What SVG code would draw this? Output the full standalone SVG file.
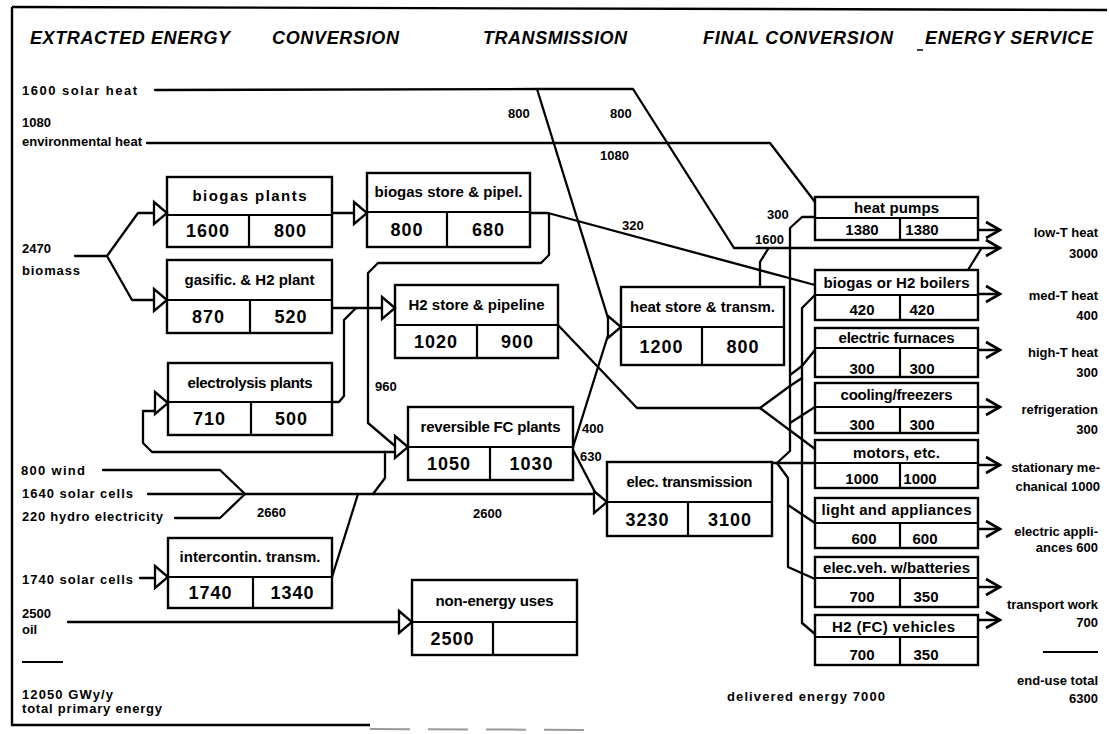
<svg xmlns="http://www.w3.org/2000/svg" width="1109" height="734" viewBox="0 0 1109 734">
<style>
.bx{fill:#fff;stroke:#000;stroke-width:2.4}
.dv{fill:none;stroke:#000;stroke-width:2.2}
.cn polyline,.cn path{fill:none;stroke:#000;stroke-width:2.3;stroke-linejoin:round;stroke-linecap:round}
.tri{fill:#fff;stroke:#000;stroke-width:2.3;stroke-linejoin:miter}
.chev{fill:none;stroke:#000;stroke-width:2.6;stroke-linejoin:miter}
.fr{fill:none;stroke:#000;stroke-width:2.4}
text{font-family:"Liberation Sans",Arial,Helvetica,sans-serif;font-weight:bold;fill:#000}
.hd{font-size:18px;font-style:italic}
.lb{font-size:13px}
.bh{font-size:15px;text-anchor:middle}
.bv{font-size:18px;text-anchor:middle;letter-spacing:1px}
.eh{font-size:15px;text-anchor:middle}
.ev{font-size:15px;text-anchor:middle}
.rl{font-size:13px;text-anchor:end}
</style>
<defs>
<path id="tri" class="tri" d="M-13,-11 L0,0 L-13,11 Z"/>
<path id="chev" class="chev" d="M-14,-8 L0,0 L-14,8"/>
</defs>
<rect width="1109" height="734" fill="#fff"/>

<g id="frame">
<path class="fr" d="M12,7 L1107,10"/>
<path class="fr" d="M12,7 L12,725 L370,725"/>
<path d="M370,729 L600,730" stroke="#999" stroke-width="2" stroke-dasharray="40,18" fill="none"/>
<path d="M917,50 L923,50" stroke="#000" stroke-width="1.5"/>
</g>

<g id="stage-headers">
<text class="hd" x="30" y="44" textLength="200" lengthAdjust="spacing">EXTRACTED ENERGY</text>
<text class="hd" x="272" y="44" textLength="127" lengthAdjust="spacing">CONVERSION</text>
<text class="hd" x="483" y="44" textLength="144" lengthAdjust="spacing">TRANSMISSION</text>
<text class="hd" x="703" y="44" textLength="190" lengthAdjust="spacing">FINAL CONVERSION</text>
<text class="hd" x="925" y="44" textLength="168" lengthAdjust="spacing">ENERGY SERVICE</text>
</g>

<g id="sources">
<text class="lb" x="22" y="95" textLength="115" lengthAdjust="spacing">1600 solar heat</text>
<text class="lb" x="22" y="127">1080</text>
<text class="lb" x="22" y="146" textLength="120" lengthAdjust="spacing">environmental heat</text>
<text class="lb" x="22" y="253">2470</text>
<text class="lb" x="22" y="275" textLength="58" lengthAdjust="spacing">biomass</text>
<text class="lb" x="21" y="475" textLength="64" lengthAdjust="spacing">800 wind</text>
<text class="lb" x="22" y="498" textLength="111" lengthAdjust="spacing">1640 solar cells</text>
<text class="lb" x="22" y="521" textLength="141" lengthAdjust="spacing">220 hydro electricity</text>
<text class="lb" x="22" y="584" textLength="111" lengthAdjust="spacing">1740 solar cells</text>
<text class="lb" x="22" y="618">2500</text>
<text class="lb" x="22" y="634">oil</text>
<path d="M22,662 L63,662" stroke="#000" stroke-width="2"/>
<text class="lb" x="22" y="699" textLength="91" lengthAdjust="spacing">12050 GWy/y</text>
<text class="lb" x="22" y="713" textLength="140" lengthAdjust="spacing">total primary energy</text>
</g>

<g id="connectors" class="cn">
<polyline points="155,90 537,89 633,89 734,248 1000,248"/>
<polyline points="537,89 608,318"/>
<polyline points="147,143 770,143 815,202"/>
<polyline points="75,256 107,256 138,213 154,213"/>
<polyline points="107,256 132,300 154,300"/>
<polyline points="332,213 354,213"/>
<polyline points="530,213 548,213 815,285"/>
<polyline points="549,214 549,255 541,263 378,263 368,273 368,423 395,446"/>
<polyline points="332,308 382,308"/>
<polyline points="332,402 339,402 344,396 344,320 356,308"/>
<polyline points="155,411 143,411 143,443 152,452 395,452"/>
<polyline points="385,452 385,478 373,494"/>
<polyline points="103,470 220,470 245,494"/>
<polyline points="175,518 220,518 245,494"/>
<polyline points="148,494 594,494"/>
<polyline points="332,577 358,494"/>
<polyline points="140,578 155,578"/>
<polyline points="68,622 399,622"/>
<polyline points="573,447 609,332"/>
<polyline points="573,450 596,494"/>
<polyline points="558,325 637,408 760,408"/>
<polyline points="760,408 815,449"/>
<polyline points="760,408 790,386 802,378"/>
<polyline points="790,375 802,366 815,350"/>
<polyline points="760,287 760,262 768,249"/>
<polyline points="772,463 815,463"/>
<polyline points="777,463 790,451 790,228 802,217 815,217"/>
<polyline points="790,423 815,407"/>
<polyline points="777,463 788,478 788,567 815,579"/>
<polyline points="788,505 815,523"/>
<polyline points="815,295 802,308 802,623 815,634"/>
<polyline points="968,270 981,249"/>
<path d="M978,230H1000M978,294H1000M978,350H1000M978,407H1000M978,465H1000M978,529H1000M978,587H1000M978,620H1000"/>
<use href="#chev" x="1000" y="230"/>
<use href="#chev" x="1000" y="248"/>
<use href="#chev" x="1000" y="294"/>
<use href="#chev" x="1000" y="350"/>
<use href="#chev" x="1000" y="407"/>
<use href="#chev" x="1000" y="465"/>
<use href="#chev" x="1000" y="529"/>
<use href="#chev" x="1000" y="587"/>
<use href="#chev" x="1000" y="620"/>
</g>

<g id="flow-labels">
<text class="lb" x="508" y="118">800</text>
<text class="lb" x="610" y="118">800</text>
<text class="lb" x="600" y="160">1080</text>
<text class="lb" x="622" y="230">320</text>
<text class="lb" x="767" y="219">300</text>
<text class="lb" x="755" y="244">1600</text>
<text class="lb" x="375" y="391">960</text>
<text class="lb" x="582" y="433">400</text>
<text class="lb" x="580" y="461">630</text>
<text class="lb" x="257" y="517">2660</text>
<text class="lb" x="473" y="518">2600</text>
<text class="lb" x="727" y="701" textLength="158" lengthAdjust="spacing">delivered energy 7000</text>
</g>

<g id="biogas-plants">
<rect class="bx" x="167" y="177" width="165" height="70"/>
<path class="dv" d="M167,215H332M249,215V247"/>
<use href="#tri" x="167" y="213"/>
<text class="bh" x="249.5" y="201" textLength="114" lengthAdjust="spacing">biogas plants</text>
<text class="bv" x="208" y="237">1600</text>
<text class="bv" x="290.5" y="237">800</text>
</g>
<g id="gasific-h2-plant">
<rect class="bx" x="167" y="260" width="165" height="73"/>
<path class="dv" d="M167,300H332M250,300V333"/>
<use href="#tri" x="167" y="300"/>
<text class="bh" x="249.5" y="285" textLength="130" lengthAdjust="spacing">gasific. &amp; H2 plant</text>
<text class="bv" x="208.5" y="323">870</text>
<text class="bv" x="291" y="323">520</text>
</g>
<g id="electrolysis-plants">
<rect class="bx" x="168" y="363" width="164" height="72"/>
<path class="dv" d="M168,402H332M251,402V435"/>
<use href="#tri" x="168" y="403"/>
<text class="bh" x="250" y="387.5" textLength="125" lengthAdjust="spacing">electrolysis plants</text>
<text class="bv" x="209.5" y="425">710</text>
<text class="bv" x="291.5" y="425">500</text>
</g>
<g id="intercontin-transm">
<rect class="bx" x="168" y="538" width="164" height="70"/>
<path class="dv" d="M168,577H332M253,577V608"/>
<use href="#tri" x="168" y="577"/>
<text class="bh" x="250" y="562" textLength="141" lengthAdjust="spacing">intercontin. transm.</text>
<text class="bv" x="210.5" y="599">1740</text>
<text class="bv" x="292.5" y="599">1340</text>
</g>
<g id="biogas-store">
<rect class="bx" x="367" y="173" width="163" height="74"/>
<path class="dv" d="M367,212H530M447,212V247"/>
<use href="#tri" x="367" y="213"/>
<text class="bh" x="448.5" y="197" textLength="148" lengthAdjust="spacing">biogas store &amp; pipel.</text>
<text class="bv" x="407" y="236">800</text>
<text class="bv" x="488.5" y="236">680</text>
</g>
<g id="h2-store">
<rect class="bx" x="395" y="285" width="163" height="73"/>
<path class="dv" d="M395,325H558M477,325V358"/>
<use href="#tri" x="395" y="308"/>
<text class="bh" x="476.5" y="310" textLength="136" lengthAdjust="spacing">H2 store &amp; pipeline</text>
<text class="bv" x="436" y="348">1020</text>
<text class="bv" x="517.5" y="348">900</text>
</g>
<g id="reversible-fc">
<rect class="bx" x="408" y="407" width="165" height="73"/>
<path class="dv" d="M408,447H573M490,447V480"/>
<use href="#tri" x="408" y="447"/>
<text class="bh" x="490.5" y="432" textLength="140" lengthAdjust="spacing">reversible FC plants</text>
<text class="bv" x="449" y="470">1050</text>
<text class="bv" x="531.5" y="470">1030</text>
</g>
<g id="non-energy">
<rect class="bx" x="412" y="580" width="165" height="75"/>
<path class="dv" d="M412,622H577M493,622V655"/>
<use href="#tri" x="412" y="622"/>
<text class="bh" x="494.5" y="606" textLength="118" lengthAdjust="spacing">non-energy uses</text>
<text class="bv" x="452.5" y="645">2500</text>
</g>
<g id="heat-store">
<rect class="bx" x="621" y="287" width="163" height="78"/>
<path class="dv" d="M621,327H784M702,327V365"/>
<use href="#tri" x="621" y="327"/>
<text class="bh" x="702.5" y="312" textLength="145" lengthAdjust="spacing">heat store &amp; transm.</text>
<text class="bv" x="661.5" y="353">1200</text>
<text class="bv" x="743" y="353">800</text>
</g>
<g id="elec-transmission">
<rect class="bx" x="607" y="462" width="165" height="74"/>
<path class="dv" d="M607,502H772M688,502V536"/>
<use href="#tri" x="607" y="502"/>
<text class="bh" x="689.5" y="487" textLength="126" lengthAdjust="spacing">elec. transmission</text>
<text class="bv" x="647.5" y="526">3230</text>
<text class="bv" x="730" y="526">3100</text>
</g>

<g id="heat-pumps">
<rect class="bx" x="815" y="197" width="163" height="43"/>
<path class="dv" d="M815,218H978M900,218V240"/>
<text class="eh" x="896.5" y="213" textLength="85" lengthAdjust="spacing">heat pumps</text>
<text class="ev" x="862" y="235">1380</text>
<text class="ev" x="922" y="235">1380</text>
</g>
<g id="boilers">
<rect class="bx" x="815" y="270" width="163" height="50"/>
<path class="dv" d="M815,295H978M900,295V320"/>
<text class="eh" x="896.5" y="288" textLength="146" lengthAdjust="spacing">biogas or H2 boilers</text>
<text class="ev" x="862" y="315">420</text>
<text class="ev" x="922" y="315">420</text>
</g>
<g id="electric-furnaces">
<rect class="bx" x="815" y="328" width="163" height="49"/>
<path class="dv" d="M815,348H978M900,348V377"/>
<text class="eh" x="896.5" y="343" textLength="116" lengthAdjust="spacing">electric furnaces</text>
<text class="ev" x="862" y="374">300</text>
<text class="ev" x="922" y="374">300</text>
</g>
<g id="cooling-freezers">
<rect class="bx" x="815" y="383" width="163" height="50"/>
<path class="dv" d="M815,407H978M900,407V433"/>
<text class="eh" x="896.5" y="400" textLength="112" lengthAdjust="spacing">cooling/freezers</text>
<text class="ev" x="862" y="430">300</text>
<text class="ev" x="922" y="430">300</text>
</g>
<g id="motors">
<rect class="bx" x="815" y="440" width="163" height="48"/>
<path class="dv" d="M815,463H978M900,463V488"/>
<text class="eh" x="896.5" y="458" textLength="87" lengthAdjust="spacing">motors, etc.</text>
<text class="ev" x="862" y="484">1000</text>
<text class="ev" x="920" y="484">1000</text>
</g>
<g id="light-appliances">
<rect class="bx" x="815" y="498" width="163" height="50"/>
<path class="dv" d="M815,523H978M900,523V548"/>
<text class="eh" x="896.5" y="515" textLength="150" lengthAdjust="spacing">light and appliances</text>
<text class="ev" x="864" y="544">600</text>
<text class="ev" x="925" y="544">600</text>
</g>
<g id="elec-vehicles">
<rect class="bx" x="815" y="557" width="163" height="50"/>
<path class="dv" d="M815,578H978M900,578V607"/>
<text class="eh" x="896.5" y="573" textLength="147" lengthAdjust="spacing">elec.veh. w/batteries</text>
<text class="ev" x="862" y="602">700</text>
<text class="ev" x="926" y="602">350</text>
</g>
<g id="h2-vehicles">
<rect class="bx" x="815" y="615" width="163" height="50"/>
<path class="dv" d="M815,637H978M900,637V665"/>
<text class="eh" x="893.5" y="632" textLength="123" lengthAdjust="spacing">H2 (FC) vehicles</text>
<text class="ev" x="862" y="660">700</text>
<text class="ev" x="926" y="660">350</text>
</g>

<g id="services">
<text class="rl" x="1098" y="237">low-T heat</text>
<text class="rl" x="1098" y="258">3000</text>
<text class="rl" x="1098" y="300">med-T heat</text>
<text class="rl" x="1098" y="320">400</text>
<text class="rl" x="1098" y="357">high-T heat</text>
<text class="rl" x="1098" y="377">300</text>
<text class="rl" x="1098" y="414">refrigeration</text>
<text class="rl" x="1098" y="434">300</text>
<text class="rl" x="1100" y="472">stationary me-</text>
<text class="rl" x="1100" y="491">chanical 1000</text>
<text class="rl" x="1098" y="536">electric appli-</text>
<text class="rl" x="1098" y="552">ances 600</text>
<text class="rl" x="1098" y="609">transport work</text>
<text class="rl" x="1098" y="627">700</text>
<path d="M1043,652 L1098,652" stroke="#000" stroke-width="2"/>
<text class="rl" x="1098" y="685">end-use total</text>
<text class="rl" x="1098" y="703">6300</text>
</g>
</svg>
